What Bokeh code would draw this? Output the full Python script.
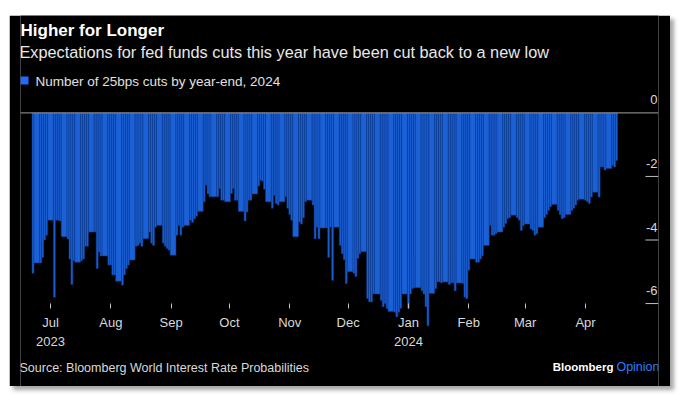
import pandas as pd
from bokeh.plotting import figure
from bokeh.models import (Range1d, FixedTicker, Label, BoxAnnotation, Span,
                          ColumnDataSource, Spacer)
from bokeh.layouts import column, row
from bokeh.embed import file_html
from bokeh.resources import INLINE
from bokeh.core.properties import value

# ---------------- data (number of 25bp cuts priced by year-end 2024) -------------
first_day = "2023-06-22"
last_day = "2024-04-17"
cuts_jun23 = [-5.05, -4.72, -4.72, -4.55, -4.00, -3.85, -3.38]
cuts_jul23 = [-5.80, -3.38, -3.38, -3.40, -3.90, -3.97, -4.60, -5.40, -4.65, -4.70,
              -4.65, -4.60, -4.20, -4.20, -3.75, -3.75, -4.90, -4.38, -4.50, -4.50, -4.79]
cuts_aug23 = [-4.79, -5.10, -5.10, -5.30, -5.42, -5.10, -4.90, -4.79, -4.63, -4.20,
              -4.17, -4.10, -4.20, -3.96, -3.75, -4.10, -4.17, -3.60, -3.54, -4.10,
              -4.20, -4.27, -4.32]
cuts_sep23 = [-4.48, -3.85, -3.54, -3.85, -3.60, -3.54, -3.38, -3.45, -3.33, -3.25,
              -3.10, -2.80, -2.28, -2.55, -2.64, -2.64, -2.64, -2.38, -2.75, -2.75, -2.80]
cuts_oct23 = [-2.54, -2.38, -2.75, -2.75, -3.10, -3.40, -3.12, -2.75, -2.75, -2.55,
              -2.30, -2.12, -2.15, -2.40, -2.80, -3.00, -2.60, -2.85, -2.90, -2.80,
              -2.64, -3.00]
cuts_nov23 = [-3.20, -3.38, -3.90, -3.43, -3.50, -3.30, -2.80, -2.75, -2.90, -3.96,
              -3.60, -3.96, -3.62, -3.62, -4.55, -3.60, -5.27, -3.60, -4.17, -4.43,
              -4.62, -5.37]
cuts_dec23 = [-5.00, -5.05, -5.15, -4.58, -4.43, -4.37, -5.84, -5.95, -5.95, -5.70,
              -5.70, -5.90, -6.10, -6.00, -6.16, -6.25, -6.27, -6.42, -6.27, -6.15, -5.70]
cuts_jan24 = [-6.15, -5.70, -5.53, -5.50, -5.50, -5.60, -5.70, -6.10, -6.70, -5.68,
              -5.53, -5.32, -5.32, -5.35, -5.32, -5.40, -5.35, -5.35, -5.60, -5.35,
              -5.37, -5.80, -5.85]
cuts_feb24 = [-4.95, -4.60, -4.70, -4.70, -4.60, -4.50, -4.17, -3.54, -3.85, -3.85,
              -3.80, -3.75, -3.60, -3.48, -3.33, -3.30, -3.22, -3.30, -3.38, -3.70, -3.55]
cuts_mar24 = [-3.50, -3.65, -3.70, -3.85, -3.80, -3.60, -3.30, -3.20, -3.07, -2.95,
              -2.88, -3.07, -3.20, -3.33, -3.30, -3.20, -3.07, -3.00, -2.90, -2.75, -2.72]
cuts_apr24 = [-2.75, -2.80, -2.85, -2.65, -2.50, -2.65, -1.70, -1.70, -1.80, -1.75,
              -1.65, -1.70, -1.50]

month_ticks = ["2023-07-01", "2023-08-01", "2023-09-01", "2023-10-01", "2023-11-01",
               "2023-12-01", "2024-01-01", "2024-02-01", "2024-03-01", "2024-04-01"]
month_labels = ["Jul\n2023", "Aug", "Sep", "Oct", "Nov", "Dec", "Jan\n2024", "Feb", "Mar", "Apr"]
y_ticks = [0, -2, -4, -6]
y_labels = ["0", "-2", "-4", "-6"]

# ---------------- build ------------------------------------------------------------
cuts = (cuts_jun23 + cuts_jul23 + cuts_aug23 + cuts_sep23 + cuts_oct23 + cuts_nov23 +
        cuts_dec23 + cuts_jan24 + cuts_feb24 + cuts_mar24 + cuts_apr24)
dates = pd.bdate_range(first_day, last_day)
n = min(len(dates), len(cuts))
dates = dates[:n]
cuts = cuts[:n]
half = pd.Timedelta(hours=12)
lefts = [d - half for d in dates]
rights = [d - half for d in dates[1:]] + [dates[-1] + half]
src = ColumnDataSource(dict(left=lefts, right=rights, top=[0.0] * n, bottom=cuts))

x_start = pd.Timestamp("2023-07-01") - pd.Timedelta(days=15.42)
x_end = pd.Timestamp("2024-04-01") + pd.Timedelta(days=37.52)

FONT = "Liberation Sans"
BAR = "#1c60d6"

p = figure(width=661, height=371, x_axis_type="datetime",
           x_range=Range1d(x_start, x_end), y_range=Range1d(-8.61, 3.065),
           output_backend="svg", toolbar_location=None, y_axis_location=None,
           min_border_left=11, min_border_right=12, min_border_top=0, min_border_bottom=0,
           background_fill_color="black", border_fill_color="black",
           outline_line_color=None)
p.xgrid.visible = False
p.ygrid.visible = False

p.quad(left="left", right="right", top="top", bottom="bottom", source=src,
       fill_color=BAR, line_color="#0b3a8c", line_width=0.5)

p.add_layout(Span(location=0, dimension="width", line_color="#a0a0a0", line_width=1))

# x axis placed inside the frame
tick_ms = [pd.Timestamp(t).value / 1e6 for t in month_ticks]
xa = p.xaxis[0]
xa.ticker = FixedTicker(ticks=tick_ms)
xa.major_label_overrides = {ms: lab for ms, lab in zip(tick_ms, month_labels)}
xa.fixed_location = -6.0
xa.axis_line_color = None
xa.major_tick_in = 0
xa.major_tick_out = 5
xa.major_tick_line_color = "#bfbfbf"
xa.minor_tick_line_color = None
xa.major_label_standoff = 6
xa.major_label_text_color = "#d9d9d9"
xa.major_label_text_font = FONT
xa.major_label_text_font_size = "13px"
xa.major_label_text_line_height = 1.3

# y axis (Bloomberg style: label above a short dash at the right edge)
dash_len = pd.Timedelta(days=6.7)
p.segment(x0=[x_end - dash_len] * (len(y_ticks) - 1), x1=[x_end] * (len(y_ticks) - 1),
          y0=y_ticks[1:], y1=y_ticks[1:], line_color="#bfbfbf", line_width=1)
p.text(x=[x_end] * len(y_ticks), y=y_ticks, text=y_labels, x_offset=-1, y_offset=-13,
       text_align="right", text_baseline="middle", text_color="#d9d9d9",
       text_font=value(FONT), text_font_size="13px")


def add_label(text, x, y, size, color, bold=False, align="left"):
    p.add_layout(Label(x=x, y=y, x_units="screen", y_units="screen", text=text,
                       text_font=FONT, text_font_size=size, text_color=color,
                       text_font_style="bold" if bold else "normal",
                       text_align=align, text_baseline="middle"))


add_label("Higher for Longer", 0, 356, "17px", "#ffffff", bold=True)
add_label("Expectations for fed funds cuts this year have been cut back to a new low",
          -1, 335, "16.3px", "#e8e8e8")
p.add_layout(BoxAnnotation(left=0, right=8, bottom=302, top=310,
                           left_units="screen", right_units="screen",
                           bottom_units="screen", top_units="screen",
                           fill_color="#1f6bff", fill_alpha=1, line_color=None))
add_label("Number of 25bps cuts by year-end, 2024", 15, 305, "13.5px", "#e0e0e0")
add_label("Source: Bloomberg World Interest Rate Probabilities", -1, 19, "12.5px", "#d9d9d9")
add_label("Opinion", 639, 20, "12.5px", "#2a7fff", align="right")
add_label("Bloomberg", 593, 20, "11.5px", "#ffffff", bold=True, align="right")

p.styles = {"box-shadow": "4px 4px 4px rgba(0,0,0,0.35)"}

layout = column(Spacer(height=15, width=670), row(Spacer(width=9, height=371), p))
open("out.html", "w").write(file_html(layout, INLINE))
